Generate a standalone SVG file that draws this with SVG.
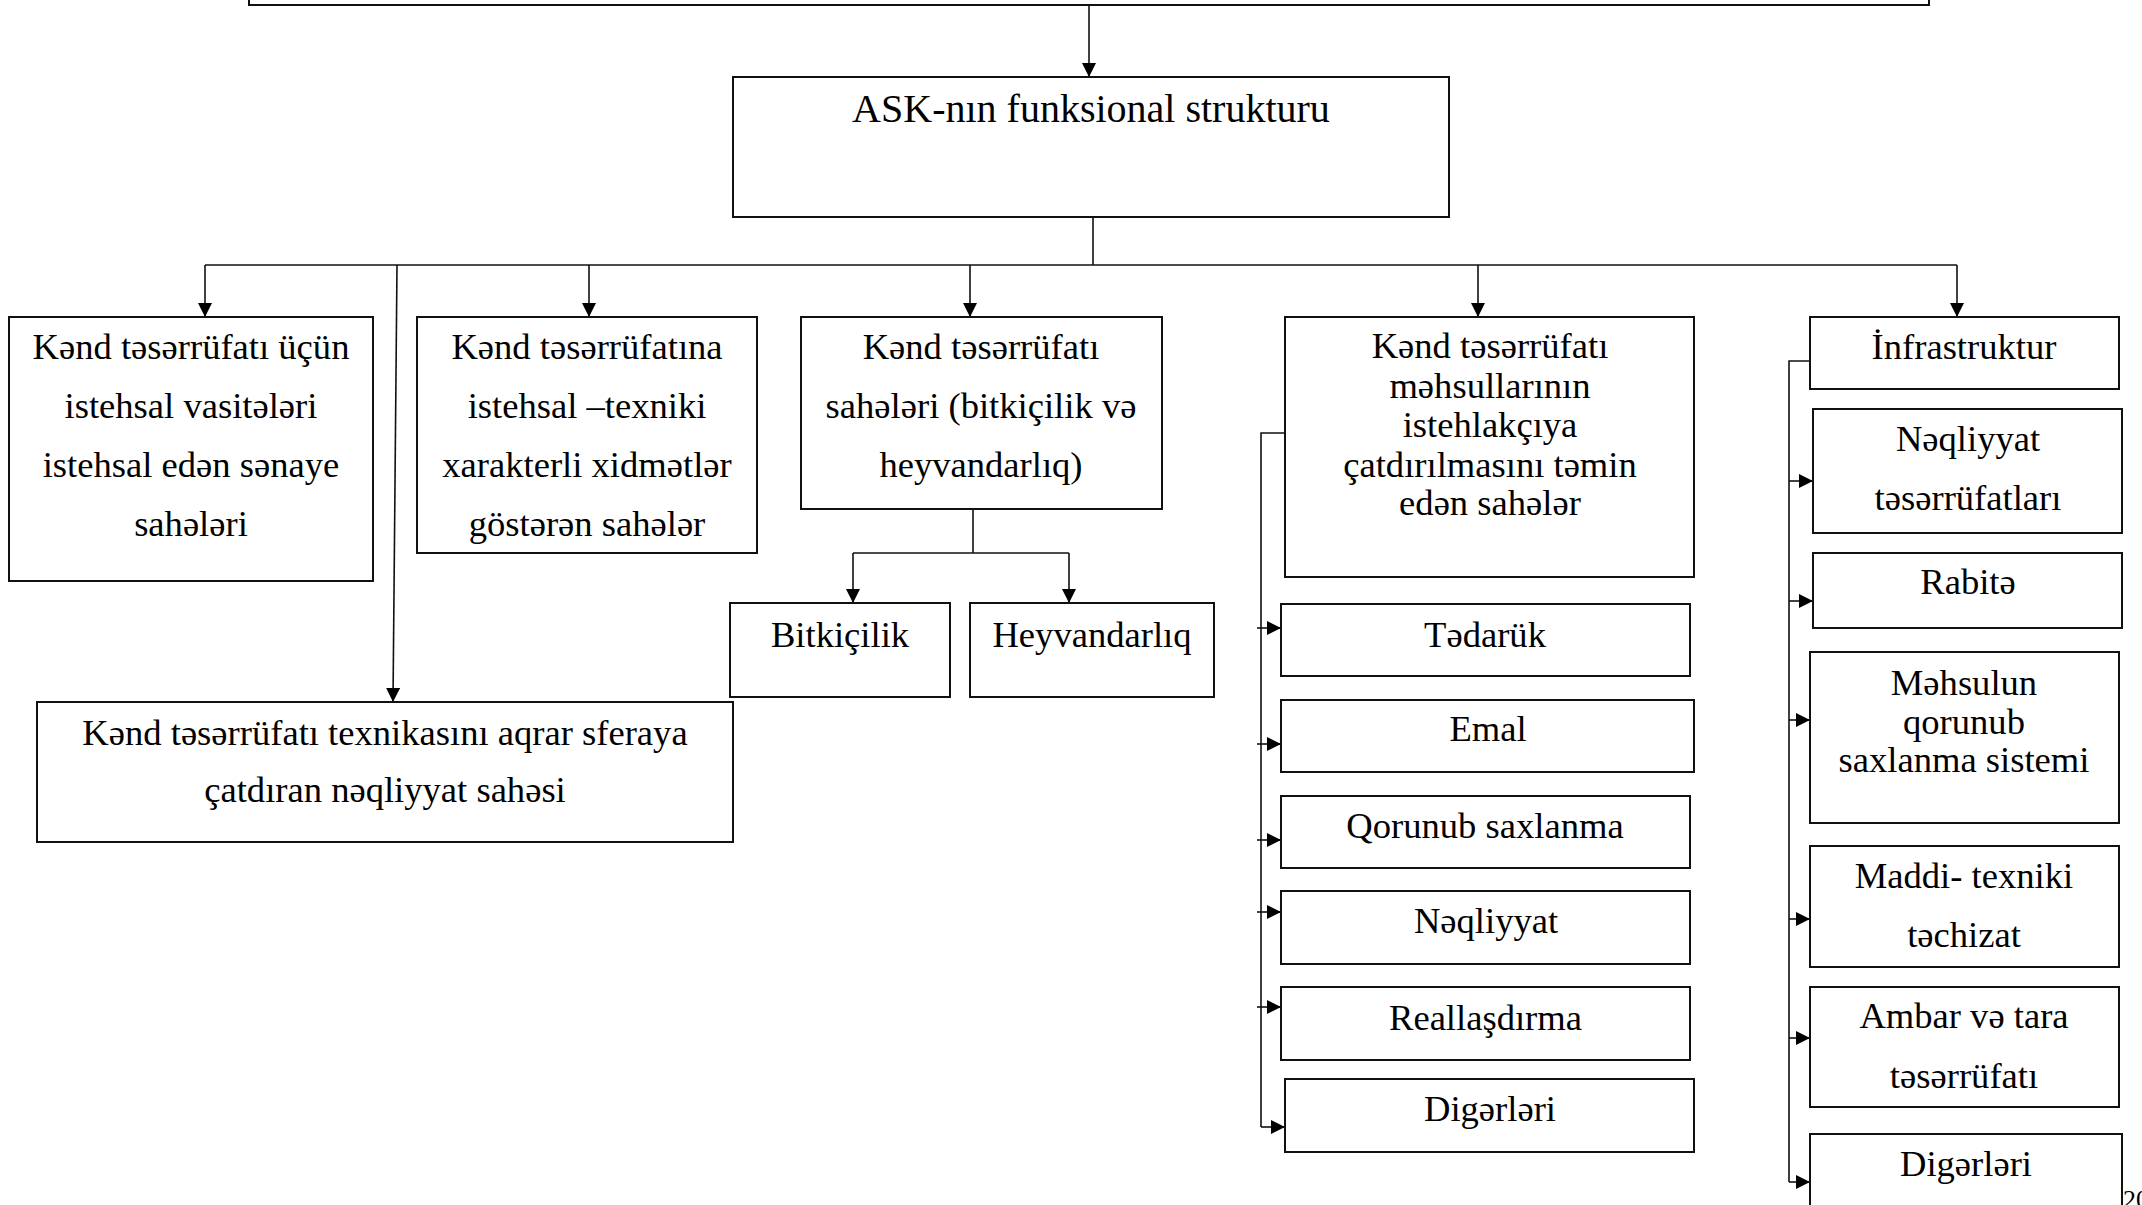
<svg xmlns="http://www.w3.org/2000/svg" width="2142" height="1205" viewBox="0 0 2142 1205">
<style>
.box{fill:#fff;stroke:#111;stroke-width:2}
.ln{fill:none;stroke:#111;stroke-width:1.6}
.t{font-family:"Liberation Serif","DejaVu Serif",serif;font-size:36.6px;fill:#000;text-anchor:middle}
.title{font-size:40px}
</style>
<defs>
<marker id="ah" viewBox="0 0 14 14" refX="14" refY="7" markerWidth="14" markerHeight="14" markerUnits="userSpaceOnUse" orient="auto">
<path d="M0,0 L14,7 L0,14 z" fill="#000"/>
</marker>
</defs>
<rect width="2142" height="1205" fill="#fff"/>

<g id="connectors">
<line class="ln" x1="1089" y1="5" x2="1089" y2="77" marker-end="url(#ah)"/>
<line class="ln" x1="1093" y1="217" x2="1093" y2="265"/>
<line class="ln" x1="205" y1="265" x2="1957" y2="265"/>
<line class="ln" x1="205" y1="265" x2="205" y2="317" marker-end="url(#ah)"/>
<line class="ln" x1="589" y1="265" x2="589" y2="317" marker-end="url(#ah)"/>
<line class="ln" x1="970" y1="265" x2="970" y2="317" marker-end="url(#ah)"/>
<line class="ln" x1="1478" y1="265" x2="1478" y2="317" marker-end="url(#ah)"/>
<line class="ln" x1="1957" y1="265" x2="1957" y2="317" marker-end="url(#ah)"/>
<line class="ln" x1="397" y1="265" x2="393" y2="702" marker-end="url(#ah)"/>
<polyline class="ln" points="973,509 973,553"/>
<polyline class="ln" points="853,553 1069,553"/>
<line class="ln" x1="853" y1="553" x2="853" y2="603" marker-end="url(#ah)"/>
<line class="ln" x1="1069" y1="553" x2="1069" y2="603" marker-end="url(#ah)"/>
<polyline class="ln" points="1285,433 1261,433 1261,1127"/>
<line class="ln" x1="1257" y1="628" x2="1281" y2="628" marker-end="url(#ah)"/>
<line class="ln" x1="1257" y1="744" x2="1281" y2="744" marker-end="url(#ah)"/>
<line class="ln" x1="1257" y1="840" x2="1281" y2="840" marker-end="url(#ah)"/>
<line class="ln" x1="1257" y1="912" x2="1281" y2="912" marker-end="url(#ah)"/>
<line class="ln" x1="1257" y1="1007" x2="1281" y2="1007" marker-end="url(#ah)"/>
<line class="ln" x1="1261" y1="1127" x2="1285" y2="1127" marker-end="url(#ah)"/>
<polyline class="ln" points="1814,361 1789,361 1789,1182"/>
<line class="ln" x1="1789" y1="481" x2="1813" y2="481" marker-end="url(#ah)"/>
<line class="ln" x1="1789" y1="601" x2="1813" y2="601" marker-end="url(#ah)"/>
<line class="ln" x1="1789" y1="720" x2="1810" y2="720" marker-end="url(#ah)"/>
<line class="ln" x1="1789" y1="919" x2="1810" y2="919" marker-end="url(#ah)"/>
<line class="ln" x1="1789" y1="1038" x2="1810" y2="1038" marker-end="url(#ah)"/>
<line class="ln" x1="1789" y1="1182" x2="1810" y2="1182" marker-end="url(#ah)"/>
</g>

<g id="top-box"><rect class="box" x="249" y="-30" width="1680" height="35"/></g>

<g id="ask"><rect class="box" x="733" y="77" width="716" height="140"/>
<text class="t title" x="1091" y="122">ASK-nın funksional strukturu</text></g>

<g id="n1"><rect class="box" x="9" y="317" width="364" height="264"/>
<text class="t" x="191" y="358.5">Kənd təsərrüfatı üçün</text>
<text class="t" x="191" y="418">istehsal vasitələri</text>
<text class="t" x="191" y="477">istehsal edən sənaye</text>
<text class="t" x="191" y="536">sahələri</text></g>

<g id="n2"><rect class="box" x="417" y="317" width="340" height="236"/>
<text class="t" x="587" y="358.5">Kənd təsərrüfatına</text>
<text class="t" x="587" y="418">istehsal –texniki</text>
<text class="t" x="587" y="477">xarakterli xidmətlər</text>
<text class="t" x="587" y="536">göstərən sahələr</text></g>

<g id="n3"><rect class="box" x="801" y="317" width="361" height="192"/>
<text class="t" x="981" y="359">Kənd təsərrüfatı</text>
<text class="t" x="981" y="418">sahələri (bitkiçilik və</text>
<text class="t" x="981" y="477">heyvandarlıq)</text></g>

<g id="n3a"><rect class="box" x="730" y="603" width="220" height="94"/>
<text class="t" x="840" y="647">Bitkiçilik</text></g>

<g id="n3b"><rect class="box" x="970" y="603" width="244" height="94"/>
<text class="t" x="1092" y="647">Heyvandarlıq</text></g>

<g id="n6"><rect class="box" x="37" y="702" width="696" height="140"/>
<text class="t" x="385" y="745">Kənd təsərrüfatı texnikasını aqrar sferaya</text>
<text class="t" x="385" y="802">çatdıran nəqliyyat sahəsi</text></g>

<g id="n4"><rect class="box" x="1285" y="317" width="409" height="260"/>
<text class="t" x="1490" y="358">Kənd təsərrüfatı</text>
<text class="t" x="1490" y="397.5">məhsullarının</text>
<text class="t" x="1490" y="437">istehlakçıya</text>
<text class="t" x="1490" y="476.5">çatdırılmasını təmin</text>
<text class="t" x="1490" y="515">edən sahələr</text></g>

<g id="n4a"><rect class="box" x="1281" y="604" width="409" height="72"/>
<text class="t" x="1485" y="647">Tədarük</text></g>
<g id="n4b"><rect class="box" x="1281" y="700" width="413" height="72"/>
<text class="t" x="1488" y="741">Emal</text></g>
<g id="n4c"><rect class="box" x="1281" y="796" width="409" height="72"/>
<text class="t" x="1485" y="838">Qorunub saxlanma</text></g>
<g id="n4d"><rect class="box" x="1281" y="891" width="409" height="73"/>
<text class="t" x="1486" y="933">Nəqliyyat</text></g>
<g id="n4e"><rect class="box" x="1281" y="987" width="409" height="73"/>
<text class="t" x="1485.5" y="1030">Reallaşdırma</text></g>
<g id="n4f"><rect class="box" x="1285" y="1079" width="409" height="73"/>
<text class="t" x="1490" y="1121">Digərləri</text></g>

<g id="n5"><rect class="box" x="1810" y="317" width="309" height="72"/>
<text class="t" x="1964" y="358.5">İnfrastruktur</text></g>
<g id="n5a"><rect class="box" x="1813" y="409" width="309" height="124"/>
<text class="t" x="1968" y="451">Nəqliyyat</text>
<text class="t" x="1968" y="510">təsərrüfatları</text></g>
<g id="n5b"><rect class="box" x="1813" y="553" width="309" height="75"/>
<text class="t" x="1968" y="594">Rabitə</text></g>
<g id="n5c"><rect class="box" x="1810" y="652" width="309" height="171"/>
<text class="t" x="1964" y="694.5">Məhsulun</text>
<text class="t" x="1964" y="733.5">qorunub</text>
<text class="t" x="1964" y="772">saxlanma sistemi</text></g>
<g id="n5d"><rect class="box" x="1810" y="846" width="309" height="121"/>
<text class="t" x="1964" y="888">Maddi- texniki</text>
<text class="t" x="1964" y="947">təchizat</text></g>
<g id="n5e"><rect class="box" x="1810" y="987" width="309" height="120"/>
<text class="t" x="1964" y="1028">Ambar və tara</text>
<text class="t" x="1964" y="1088">təsərrüfatı</text></g>
<g id="n5f"><rect class="box" x="1810" y="1134" width="312" height="100"/>
<text class="t" x="1966" y="1176">Digərləri</text></g>

<text class="t" x="2123" y="1208" style="text-anchor:start;font-size:26px">20</text>
</svg>
